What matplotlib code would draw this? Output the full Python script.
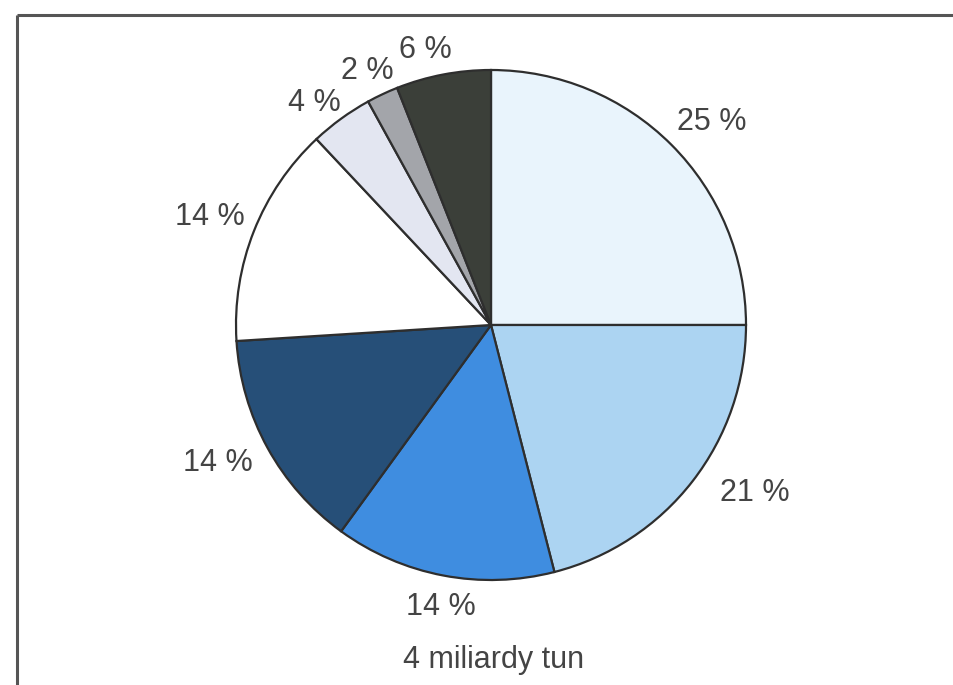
import matplotlib.pyplot as plt

plt.rcParams['font.family'] = ['Liberation Sans', 'DejaVu Sans']

# podíl jednotlivých složek, začíná se nahoře a jde po směru hodinových ručiček
shares = [25, 21, 14, 14, 14, 4, 2, 6]
colors = ['#e9f4fc', '#acd4f2', '#3f8de0', '#264f78', '#ffffff', '#e3e6f1', '#a3a5aa', '#3b3f39']
labels = [f'{s} %' for s in shares]
total_text = '4 miliardy tun'

W, H = 954, 685
# umístění popisků v pixelech (x, y shora)
label_xy = [(712, 122), (755, 493), (441, 607), (218, 463),
            (210, 217), (314, 103), (367, 71), (425, 50)]

fig = plt.figure(figsize=(W / 100, H / 100), dpi=100)
ax = fig.add_axes([0, 0, 1, 1])

wedges, _ = ax.pie(shares, colors=colors, startangle=90,
                   counterclock=False, center=(491, H - 325), radius=255,
                   frame=True,
                   wedgeprops=dict(edgecolor='#2e2e2e', linewidth=1.6))

ax.set_xlim(0, W)
ax.set_ylim(0, H)
ax.set_aspect('equal')
ax.axis('off')

for lab, (x, y) in zip(labels, label_xy):
    ax.text(x, H - y, lab, ha='center', va='center', fontsize=22, color='#444444')

ax.text(494, H - 660, total_text, ha='center', va='center', fontsize=22, color='#444444')

# rámeček: jen horní a levá hrana
ax.plot([17, W], [H - 15, H - 15], color='#555555', lw=2.2, solid_capstyle='butt')
ax.plot([17, 17], [H - 15, 0], color='#555555', lw=2.2, solid_capstyle='butt')

fig.savefig('out.png', dpi=100, facecolor='white')
